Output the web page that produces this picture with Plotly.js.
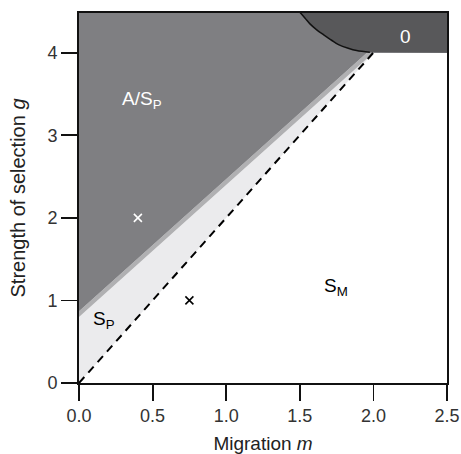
<!DOCTYPE html>
<html>
<head>
<meta charset="utf-8">
<script src="https://cdn.plot.ly/plotly-3.0.1.min.js"></script>
<style>html,body{margin:0;padding:0;background:#fff;}</style>
</head>
<body>
<div id="chart" style="width:461px;height:454px;"></div>
<script>
// Axis extents
var xRange = [0, 2.5];
var yRange = [0, 4.48];
var xTicks = [0, 0.5, 1.0, 1.5, 2.0, 2.5];
var xTickText = ["0.0", "0.5", "1.0", "1.5", "2.0", "2.5"];
var yTicks = [0, 1, 2, 3, 4];

// Boundary: g = 2m (dashed)
var dashM = [0, 2.0];
var dashG = [0, 4.0];
// Upper edge of S_P (light) region
var lightM = [0, 2.0];
var lightG = [0.80, 4.0];
// Upper edge of medium band / lower edge of A/S_P region
var bandM = [0, 1.956];
var bandG = [0.87, 4.0];
// Curved boundary of the "0" region
var arcM = [1.50, 1.536, 1.569, 1.615, 1.659, 1.716, 1.763, 1.829, 1.886, 1.976];
var arcG = [4.49, 4.417, 4.348, 4.276, 4.22, 4.15, 4.098, 4.053, 4.025, 4.005];
// Flat floor of the "0" region
var zeroFloorG = 4.0;
// Example points
var whitePtM = [0.4], whitePtG = [2.0];
var blackPtM = [0.75], blackPtG = [1.0];
// Region labels
var labelText = ["A/S<sub>P</sub>", "S<sub>P</sub>", "S<sub>M</sub>", "0"];
var labelM = [0.43, 0.17, 1.745, 2.22];
var labelG = [3.43, 0.76, 1.16, 4.19];

var xmax = xRange[1], ymax = yRange[1];

var traces = [];
// Light S_P triangle
traces.push({
  x: [dashM[0], dashM[1], lightM[0]],
  y: [dashG[0], dashG[1], lightG[0]],
  fill: 'toself', fillcolor: '#ebebed', mode: 'lines', line: {width: 0},
  hoverinfo: 'skip', showlegend: false
});
// Medium band
traces.push({
  x: [lightM[0], lightM[1], xmax, xmax, bandM[1], bandM[0]],
  y: [lightG[0], lightG[1], lightG[1], ymax, bandG[1], bandG[0]],
  fill: 'toself', fillcolor: '#b0b0b2', mode: 'lines', line: {width: 0},
  hoverinfo: 'skip', showlegend: false
});
// Dark A/S_P region
traces.push({
  x: [bandM[0], bandM[1], xmax, xmax, 0],
  y: [bandG[0], bandG[1], zeroFloorG, ymax, ymax],
  fill: 'toself', fillcolor: '#7f7f82', mode: 'lines', line: {width: 0},
  hoverinfo: 'skip', showlegend: false
});
// "0" region
traces.push({
  x: arcM.concat([xmax, xmax]),
  y: arcG.concat([zeroFloorG, ymax + 0.05]),
  fill: 'toself', fillcolor: '#58585a', mode: 'lines', line: {width: 0},
  hoverinfo: 'skip', showlegend: false
});
// Arc outline
traces.push({
  x: arcM, y: arcG, mode: 'lines',
  line: {color: '#111', width: 1.5, shape: 'spline'},
  hoverinfo: 'skip', showlegend: false
});
// Dashed line g = 2m
traces.push({
  x: dashM, y: dashG, mode: 'lines',
  line: {color: '#000', width: 2, dash: '8px,6px'},
  hoverinfo: 'skip', showlegend: false
});
// Points
traces.push({
  x: whitePtM, y: whitePtG, mode: 'markers',
  marker: {symbol: 'x-thin', size: 8, line: {color: '#fff', width: 1.6}},
  hoverinfo: 'skip', showlegend: false, cliponaxis: false
});
traces.push({
  x: blackPtM, y: blackPtG, mode: 'markers',
  marker: {symbol: 'x-thin', size: 8, line: {color: '#000', width: 1.6}},
  hoverinfo: 'skip', showlegend: false, cliponaxis: false
});

var labelColors = ['#fff', '#000', '#000', '#fff'];
var annotations = labelText.map(function (t, i) {
  return {x: labelM[i], y: labelG[i], xref: 'x', yref: 'y', text: t, showarrow: false,
    font: {family: 'Liberation Sans, Arial, sans-serif', size: 19, color: labelColors[i]}};
});

var layout = {
  width: 461, height: 454,
  margin: {l: 79, r: 14, t: 13, b: 71},
  paper_bgcolor: '#fff', plot_bgcolor: '#fff',
  font: {family: 'Liberation Sans, Arial, sans-serif', size: 17, color: '#222'},
  showlegend: false,
  xaxis: {
    range: xRange, tickvals: xTicks, ticktext: xTickText,
    ticks: 'outside', ticklen: 16, tickwidth: 1.8, tickcolor: '#111',
    showline: true, linewidth: 1.8, linecolor: '#111', mirror: true,
    showgrid: false, zeroline: false, fixedrange: true, layer: 'above traces',
    tickfont: {size: 18, color: '#333'},
    title: {text: 'Migration <i>m</i>', font: {size: 19, color: '#222'}, standoff: 12}
  },
  yaxis: {
    range: yRange, tickvals: yTicks,
    ticks: 'outside', ticklen: 16, tickwidth: 1.8, tickcolor: '#111',
    showline: true, linewidth: 1.8, linecolor: '#111', mirror: true,
    showgrid: false, zeroline: false, fixedrange: true, layer: 'above traces',
    tickfont: {size: 18, color: '#333'},
    title: {text: 'Strength of selection <i>g</i>', font: {size: 20, color: '#222'}, standoff: 16}
  },
  annotations: annotations
};

Plotly.newPlot('chart', traces, layout, {displayModeBar: false, staticPlot: true});
</script>
</body>
</html>
